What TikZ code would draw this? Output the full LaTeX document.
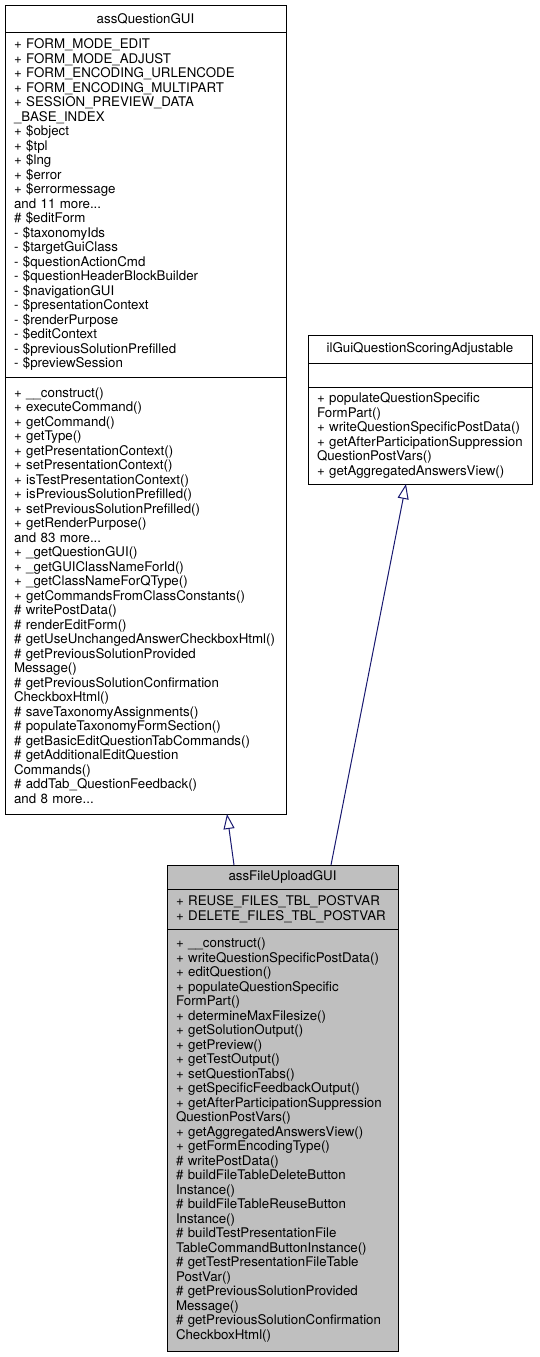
\documentclass[tikz,border=0pt]{standalone}
\usepackage{fontspec}
\setmainfont{TeX Gyre Heros}
\usetikzlibrary{positioning,arrows.meta}

\definecolor{edgeblue}{HTML}{191970}
\definecolor{classgray}{HTML}{BFBFBF}

\begin{document}
\begin{tikzpicture}[
    x=1pt, y=-1pt, line width=1pt,
    every node/.style={font=\fontsize{13.3}{14.5}\selectfont},
    head/.style={rectangle, draw, outer sep=0pt, inner xsep=9pt, inner ysep=0pt, align=center},
    part/.style={rectangle, draw, outer sep=0pt, inner xsep=9pt, inner ysep=0pt, align=left},
    realize/.style={-{Triangle[open, length=15pt, width=11pt]}, draw=edgeblue}
]
    \useasboundingbox (0,0) rectangle (539,1357);

    % base class
    \node[head, text width=263pt, minimum height=27pt] (qgui) at (145.5,18.5) {assQuestionGUI};
    \node[part, text width=263pt, minimum height=345pt, below=0pt of qgui] (qguia) {%
        + FORM\_MODE\_EDIT\\
        + FORM\_MODE\_ADJUST\\
        + FORM\_ENCODING\_URLENCODE\\
        + FORM\_ENCODING\_MULTIPART\\
        + SESSION\_PREVIEW\_DATA\\
        \_BASE\_INDEX\\
        + \$object\\
        + \$tpl\\
        + \$lng\\
        + \$error\\
        + \$errormessage\\
        and 11 more...\\
        \# \$editForm\\
        - \$taxonomyIds\\
        - \$targetGuiClass\\
        - \$questionActionCmd\\
        - \$questionHeaderBlockBuilder\\
        - \$navigationGUI\\
        - \$presentationContext\\
        - \$renderPurpose\\
        - \$editContext\\
        - \$previousSolutionPrefilled\\
        - \$previewSession};
    \node[part, text width=263pt, minimum height=437pt, below=0pt of qguia] (qguim) {%
        + \_\_construct()\\
        + executeCommand()\\
        + getCommand()\\
        + getType()\\
        + getPresentationContext()\\
        + setPresentationContext()\\
        + isTestPresentationContext()\\
        + isPreviousSolutionPrefilled()\\
        + setPreviousSolutionPrefilled()\\
        + getRenderPurpose()\\
        and 83 more...\\
        + \_getQuestionGUI()\\
        + \_getGUIClassNameForId()\\
        + \_getClassNameForQType()\\
        + getCommandsFromClassConstants()\\
        \# writePostData()\\
        \# renderEditForm()\\
        \# getUseUnchangedAnswerCheckboxHtml()\\
        \# getPreviousSolutionProvided\\
        Message()\\
        \# getPreviousSolutionConfirmation\\
        CheckboxHtml()\\
        \# saveTaxonomyAssignments()\\
        \# populateTaxonomyFormSection()\\
        \# getBasicEditQuestionTabCommands()\\
        \# getAdditionalEditQuestion\\
        Commands()\\
        \# addTab\_QuestionFeedback()\\
        and 8 more...};

    % interface
    \node[head, text width=206pt, minimum height=28pt] (ilg) at (420,349) {ilGuiQuestionScoringAdjustable};
    \node[part, text width=206pt, minimum height=24pt, below=0pt of ilg] (ilga) {};
    \node[part, text width=206pt, minimum height=97pt, below=0pt of ilga] (ilgm) {%
        + populateQuestionSpecific\\
        FormPart()\\
        + writeQuestionSpecificPostData()\\
        + getAfterParticipationSuppression\\
        QuestionPostVars()\\
        + getAggregatedAnswersView()};

    % derived class
    \node[head, fill=classgray, text width=213pt, minimum height=24pt] (fup) at (282.5,877) {assFileUploadGUI};
    \node[part, fill=classgray, text width=213pt, minimum height=40pt, below=0pt of fup] (fupa) {%
        + REUSE\_FILES\_TBL\_POSTVAR\\
        + DELETE\_FILES\_TBL\_POSTVAR};
    \node[part, fill=classgray, text width=213pt, minimum height=422pt, below=0pt of fupa] (fupm) {%
        + \_\_construct()\\
        + writeQuestionSpecificPostData()\\
        + editQuestion()\\
        + populateQuestionSpecific\\
        FormPart()\\
        + determineMaxFilesize()\\
        + getSolutionOutput()\\
        + getPreview()\\
        + getTestOutput()\\
        + setQuestionTabs()\\
        + getSpecificFeedbackOutput()\\
        + getAfterParticipationSuppression\\
        QuestionPostVars()\\
        + getAggregatedAnswersView()\\
        + getFormEncodingType()\\
        \# writePostData()\\
        \# buildFileTableDeleteButton\\
        Instance()\\
        \# buildFileTableReuseButton\\
        Instance()\\
        \# buildTestPresentationFile\\
        TableCommandButtonInstance()\\
        \# getTestPresentationFileTable\\
        PostVar()\\
        \# getPreviousSolutionProvided\\
        Message()\\
        \# getPreviousSolutionConfirmation\\
        CheckboxHtml()};

    \draw[realize] ([xshift=67pt]fup.north west) -- ([xshift=222pt]qguim.south west);
    \draw[realize] ([xshift=164pt]fup.north west) -- ([xshift=98pt]ilgm.south west);
\end{tikzpicture}
\end{document}
